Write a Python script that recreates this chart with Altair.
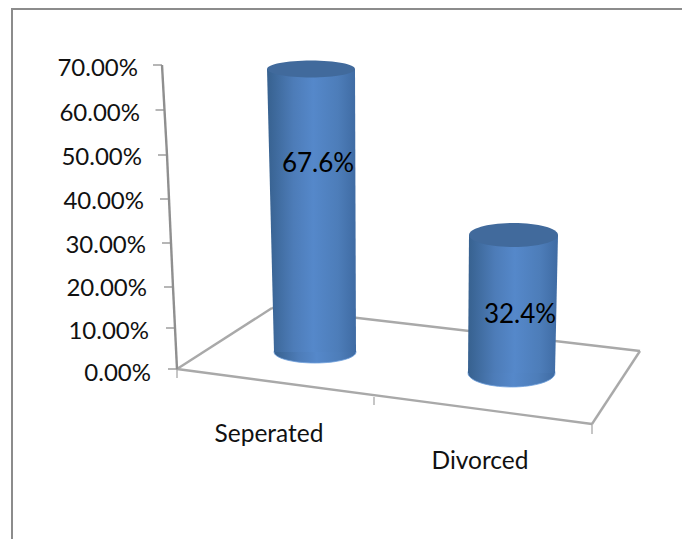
import altair as alt
import pandas as pd

# ---- chart values ----
categories = ["Seperated", "Divorced"]
values = [67.6, 32.4]
value_labels = ["67.6%", "32.4%"]
axis_values = [0, 10, 20, 30, 40, 50, 60, 70]
axis_labels = ["0.00%", "10.00%", "20.00%", "30.00%", "40.00%", "50.00%", "60.00%", "70.00%"]

# ---- 3-D projection layout (pixels of the page) ----
ZERO_PX, PX_PER_PCT = 369.0, 4.343
def level(py):
    return (ZERO_PX - py) / PX_PER_PCT

axis_py = [369, 328, 287, 243, 199, 155, 110, 65]
axis_px = [177, 175, 173, 171, 169, 167, 164.5, 162]
label_py = [372, 330, 287, 244, 200, 156, 112, 67]
label_right = [151, 149, 147, 146, 144, 142, 140, 138]

base_py = [352, 373]
top_py = [69, 235]
fore = [(level(t) - level(b)) / v for t, b, v in zip(top_py, base_py, values)]
top_left, top_right = [267, 469], [355, 558]
base_left, base_right = [274, 468], [356, 555]
top_ry, base_ry = [8.5, 12], [11, 14]

W, H = 674, 531
xs = alt.Scale(domain=[8, 682], range=[0, W], nice=False, zero=False)
ys = alt.Scale(domain=[level(539), level(8)], range=[H, 0], nice=False, zero=False)
X = alt.X("x:Q", scale=xs, axis=None)
Y = alt.Y("y:Q", scale=ys, axis=None)

def seg(rows):
    return pd.DataFrame([{"x": a, "y": level(b), "x2": c, "y2": level(d)} for a, b, c, d in rows])

def rules(rows, color, width):
    return alt.Chart(seg(rows)).mark_rule(color=color, strokeWidth=width).encode(
        x=X, y=Y, x2="x2:Q", y2="y2:Q")

frame = rules([(12, 9, 682, 9), (12, 8, 12, 539)], "#8c8c8c", 2)
floor = rules([(177, 369, 272, 308), (272, 308, 640, 351), (640, 351, 592, 424), (592, 424, 177, 369)], "#a9a9a9", 2.4)
floor_ticks = rules([(177, 369, 177, 378), (374, 397, 374, 405), (592, 424, 592, 434)], "#a0a0a0", 1.2)
axis_line = rules([(axis_px[i], axis_py[i], axis_px[i + 1], axis_py[i + 1]) for i in range(7)], "#8f8f8f", 2.4)
axis_ticks = rules([(axis_px[i] - 9, axis_py[i], axis_px[i], axis_py[i]) for i in range(8)], "#8f8f8f", 1.3)

font = "Lato"
axis_text = alt.Chart(pd.DataFrame({
    "x": label_right, "y": [level(p) for p in label_py], "t": axis_labels, "v": axis_values
})).mark_text(align="right", baseline="middle", dy=2, font=font, fontSize=24, color="#111111").encode(x=X, y=Y, text="t:N")

cat_text = alt.Chart(pd.DataFrame({
    "x": [269, 480], "y": [level(433), level(460)], "t": categories
})).mark_text(align="center", baseline="middle", dy=2, font=font, fontSize=24.5, color="#111111").encode(x=X, y=Y, text="t:N")

grad = alt.Gradient(gradient="linear", x1=0, x2=1, y1=0, y2=0, stops=[
    alt.GradientStop(color="#37618f", offset=0),
    alt.GradientStop(color="#4d7cb8", offset=0.3),
    alt.GradientStop(color="#5588ca", offset=0.52),
    alt.GradientStop(color="#4d7db9", offset=0.8),
    alt.GradientStop(color="#3f6ba3", offset=1),
])
ELLIPSE = "M-1,0A1,{r},0,1,0,1,0A1,{r},0,1,0,-1,0Z"

cyl = []
for i in range(2):
    bottom = level(base_py[i])
    top = bottom + values[i] * fore[i]
    body = alt.Chart(pd.DataFrame({
        "x": [top_left[i], base_left[i]], "x2": [top_right[i], base_right[i]], "y": [top, bottom]
    })).mark_area(orient="horizontal", color=grad).encode(x=X, x2="x2:Q", y=Y)
    bw = base_right[i] - base_left[i]
    tw = top_right[i] - top_left[i]
    base = alt.Chart(pd.DataFrame({"x": [(base_left[i] + base_right[i]) / 2], "y": [bottom]})).mark_point(
        shape=ELLIPSE.format(r=round(base_ry[i] / (bw / 2), 4)), filled=True, fill=grad, opacity=1,
        size=bw ** 2, stroke="#6f9fdc", strokeWidth=0.8
    ).encode(x=X, y=Y)
    cap = alt.Chart(pd.DataFrame({"x": [(top_left[i] + top_right[i]) / 2], "y": [top]})).mark_point(
        shape=ELLIPSE.format(r=round(top_ry[i] / (tw / 2), 4)), filled=True, fill="#416a9c", opacity=1,
        size=tw ** 2
    ).encode(x=X, y=Y)
    cyl += [base, body, cap]

value_text = alt.Chart(pd.DataFrame({
    "x": [318, 520], "y": [level(162), level(313)], "t": value_labels
})).mark_text(align="center", baseline="middle", dy=2, font=font, fontSize=26, color="#000000").encode(x=X, y=Y, text="t:N")

chart = alt.layer(
    frame, floor, floor_ticks, axis_line, axis_ticks, axis_text, cat_text, *cyl, value_text
).properties(
    width=W, height=H, padding=0, autosize=alt.AutoSizeParams(type="none"), background="white"
).configure_view(stroke=None)

chart.save("out.html", embed_options={"renderer": "svg", "actions": False})
